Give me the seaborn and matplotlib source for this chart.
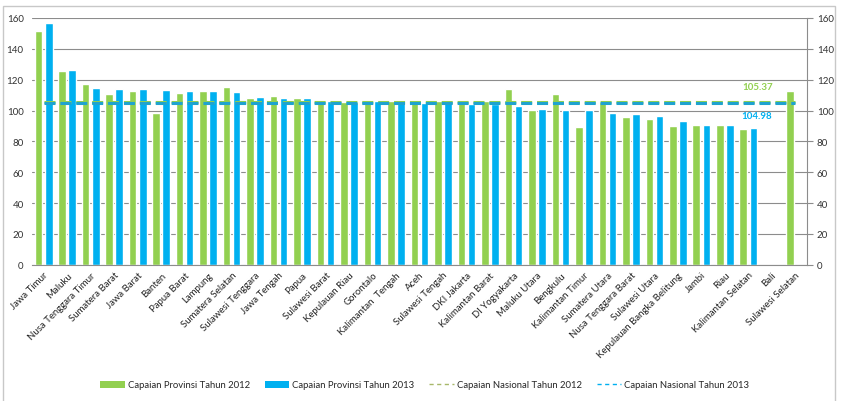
import numpy as np
import pandas as pd
import matplotlib
matplotlib.use("Agg")
import matplotlib.pyplot as plt
from matplotlib.patches import Patch, Rectangle
from matplotlib.lines import Line2D
import seaborn as sns

provinces = ["Jawa Timur", "Maluku", "Nusa Tenggara Timur", "Sumatera Barat", "Jawa Barat",
             "Banten", "Papua Barat", "Lampung", "Sumatera Selatan", "Sulawesi Tenggara",
             "Jawa Tengah", "Papua", "Sulawesi Barat", "Kepulauan Riau", "Gorontalo",
             "Kalimantan  Tengah", "Aceh", "Sulawesi Tengah", "DKI Jakarta", "Kalimantan Barat",
             "DI Yogyakarta", "Maluku Utara", "Bengkulu", "Kalimantan Timur", "Sumatera Utara",
             "Nusa Tenggara Barat", "Sulawesi Utara", "Kepulauan Bangka Belitung", "Jambi", "Riau",
             "Kalimantan Selatan", "Bali", "Sulawesi Selatan"]

prov_2012 = [151.4, 125.6, 117.2, 110.5, 112.6, 98.2, 111.4, 112.6, 115.2, 108.3,
             109.4, 107.9, 106.0, 105.5, 106.0, 106.0, 106.0, 106.0, 106.0, 106.0,
             114.0, 100.5, 110.5, 89.3, 105.5, 96.0, 94.5, 89.9, 90.8, 90.8,
             87.8, np.nan, 112.6]
prov_2013 = [157.0, 126.3, 114.4, 113.7, 113.7, 113.3, 112.6, 112.6, 112.0, 109.0,
             108.3, 108.3, 106.0, 105.5, 106.0, 106.0, 105.0, 106.0, 104.0, 104.0,
             102.7, 101.2, 100.5, 100.5, 98.2, 97.7, 96.2, 93.0, 90.8, 90.8,
             88.4, np.nan, np.nan]
nasional_2012 = 105.37
nasional_2013 = 104.98

series_labels = ["Capaian Provinsi Tahun 2012", "Capaian Provinsi Tahun 2013",
                 "Capaian Nasional Tahun 2012", "Capaian Nasional Tahun 2013"]
yticks = [0, 20, 40, 60, 80, 100, 120, 140, 160]

green = "#92D050"
blue = "#00B0F0"
line_blue = "#1FA3CF"

sns.set_style("white")
plt.rcParams["font.family"] = ["Lato", "DejaVu Sans"]

df = pd.DataFrame({
    "Provinsi": provinces * 2,
    "Seri": [series_labels[0]] * len(provinces) + [series_labels[1]] * len(provinces),
    "Nilai": prov_2012 + prov_2013,
})

fig = plt.figure(figsize=(8.46, 4.02), dpi=100)
ax = fig.add_axes([32 / 846, 1 - 265.7 / 402, 775 / 846, (265.7 - 19) / 402])

sns.barplot(data=df, x="Provinsi", y="Nilai", hue="Seri", order=provinces,
            hue_order=series_labels[:2], palette=[green, blue],
            width=0.86, gap=0.25, ax=ax, legend=False, saturation=1)

n = len(provinces)
xs = np.arange(n)
dash = (3.6, 1.6)
ax.plot(xs, [nasional_2012] * n, color=green, lw=2.2, dashes=dash, zorder=4)
ax.plot(xs, [nasional_2013] * n, color=line_blue, lw=2.2, dashes=dash, zorder=5)

ax.text(n - 2.6, nasional_2012 + 10.5, f"{nasional_2012:.2f}", color=green,
        fontsize=7, fontweight="bold", ha="center", va="center")
ax.text(n - 2.65, nasional_2013 - 8.0, f"{nasional_2013:.2f}", color=blue,
        fontsize=7, fontweight="bold", ha="center", va="center")

ax.set_xlim(-0.5, n - 0.5)
ax.set_ylim(0, 160)
ax.set_yticks(yticks)
ax.set_yticklabels([str(t) for t in yticks], fontsize=7, color="#333333")
ax.yaxis.grid(True, color="#8c8c8c", lw=0.8)
ax.set_axisbelow(True)
ax.tick_params(axis="y", length=0, pad=6)
ax.set_xlabel("")
ax.set_ylabel("")
ax.set_xticks(xs)
ax.set_xticklabels(provinces, rotation=45, ha="right", rotation_mode="anchor",
                   fontsize=6.9, color="#222222")
ax.tick_params(axis="x", length=0, pad=4)
for s in ["top", "left", "right"]:
    ax.spines[s].set_visible(False)
ax.spines["bottom"].set_color("#8c8c8c")
ax.spines["bottom"].set_linewidth(0.8)

ax2 = ax.twinx()
ax2.set_ylim(0, 160)
ax2.set_yticks(yticks)
ax2.set_yticklabels([str(t) for t in yticks], fontsize=7, color="#333333")
ax2.tick_params(axis="y", length=4, color="#8c8c8c", width=0.8, pad=3)
for s in ["top", "left", "bottom"]:
    ax2.spines[s].set_visible(False)
ax2.spines["right"].set_color("#8c8c8c")
ax2.spines["right"].set_linewidth(0.8)

handles = [Patch(facecolor=green, edgecolor="none"),
           Patch(facecolor=blue, edgecolor="none"),
           Line2D([0], [0], color="#A8B86A", lw=1.0, dashes=(3, 2.5)),
           Line2D([0], [0], color=blue, lw=1.0, dashes=(3, 2.5))]
fig.legend(handles, series_labels, loc="center", bbox_to_anchor=(0.502, 1 - 386 / 402),
           ncol=4, frameon=False, fontsize=6.8, handlelength=2.6, handleheight=0.8,
           columnspacing=1.6, handletextpad=0.3)

fig.patches.append(Rectangle((3 / 846, -0.01), 832 / 846, 1 - 7 / 402 + 0.01,
                             transform=fig.transFigure, fill=False,
                             edgecolor="#c8c8c8", lw=1.0))

fig.savefig("out.png", dpi=100)
